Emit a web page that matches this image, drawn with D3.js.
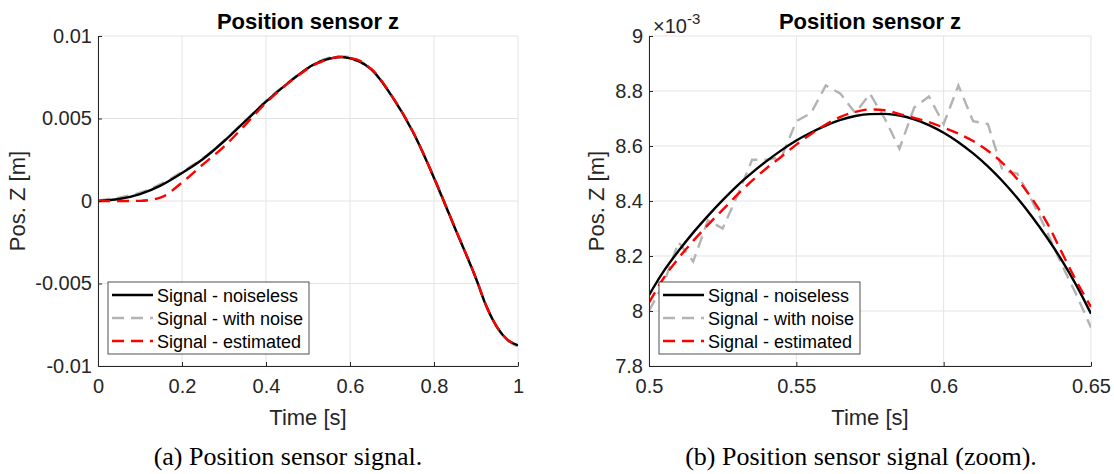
<!DOCTYPE html>
<html>
<head>
<meta charset="utf-8">
<script src="https://cdn.jsdelivr.net/npm/d3@7"></script>
<style>
  body { margin: 0; background: #fff; }
  svg { display: block; font-family: "Liberation Sans", Arial, sans-serif; }
</style>
</head>
<body>
<svg id="chart" width="1114" height="474"></svg>
<script>
// position values are in units of 1e-3 m

// zoom window (0.5 .. 0.65 s), one sample every 5 ms
const zoomTime = [0.500, 0.505, 0.510, 0.515, 0.520, 0.525, 0.530, 0.535, 0.540, 0.545,
                  0.550, 0.555, 0.560, 0.565, 0.570, 0.575, 0.580, 0.585, 0.590, 0.595,
                  0.600, 0.605, 0.610, 0.615, 0.620, 0.625, 0.630, 0.635, 0.640, 0.645, 0.650];
const zoomNoiseless = [8.058, 8.145, 8.218, 8.285, 8.346, 8.403, 8.456, 8.503, 8.546, 8.585,
                       8.620, 8.649, 8.674, 8.695, 8.709, 8.716, 8.717, 8.711, 8.697, 8.676,
                       8.648, 8.614, 8.573, 8.526, 8.472, 8.411, 8.343, 8.268, 8.186, 8.094, 7.990];
const zoomNoisy = [8.00, 8.10, 8.25, 8.18, 8.33, 8.30, 8.42, 8.55, 8.55, 8.56,
                   8.69, 8.72, 8.82, 8.79, 8.72, 8.79, 8.70, 8.59, 8.74, 8.78,
                   8.68, 8.82, 8.69, 8.68, 8.51, 8.50, 8.40, 8.29, 8.17, 8.06, 7.94];
const zoomEstimated = [8.030, 8.120, 8.192, 8.255, 8.313, 8.368, 8.423, 8.474, 8.520, 8.562,
                       8.605, 8.644, 8.678, 8.706, 8.724, 8.733, 8.730, 8.716, 8.702, 8.687,
                       8.667, 8.645, 8.618, 8.583, 8.538, 8.479, 8.408, 8.322, 8.215, 8.110, 8.015];

// rest of the run, outside the zoom window
const fullTime = [0, 0.05, 0.1, 0.15, 0.2, 0.25, 0.3, 0.35, 0.4, 0.45,
                  0.7, 0.75, 0.8, 0.85, 0.9, 0.925, 0.95, 0.975, 1];
const fullNoiseless = [0, 0.12, 0.42, 0.95, 1.70, 2.55, 3.62, 4.82, 6.02, 7.10,
                       6.34, 4.18, 1.40, -1.65, -4.70, -6.40, -7.65, -8.42, -8.75];
const fullEstimated = [0, 0, 0.01, 0.22, 1.12, 2.22, 3.30, 4.60, 5.95, 7.08,
                       6.36, 4.20, 1.42, -1.63, -4.68, -6.38, -7.63, -8.40, -8.73];

// noisy signal as seen at full scale (0 .. 1 s, every 25 ms)
const fullNoisyTime = [0, 0.025, 0.05, 0.075, 0.1, 0.125, 0.15, 0.175, 0.2, 0.225,
                       0.25, 0.275, 0.3, 0.325, 0.35, 0.375, 0.4, 0.425, 0.45, 0.475,
                       0.5, 0.525, 0.55, 0.575, 0.6, 0.625, 0.65, 0.675, 0.7, 0.725,
                       0.75, 0.775, 0.8, 0.825, 0.85, 0.875, 0.9, 0.925, 0.95, 0.975, 1];
const fullNoisy = [0.02, 0.12, 0.20, 0.33, 0.50, 0.74, 1.04, 1.38, 1.76, 2.16,
                   2.60, 3.10, 3.66, 4.26, 4.86, 5.46, 6.06, 6.62, 7.13, 7.63,
                   8.06, 8.44, 8.68, 8.78, 8.71, 8.46, 8.00, 7.24, 6.33, 5.34,
                   4.17, 2.87, 1.39, -0.16, -1.66, -3.16, -4.71, -6.41, -7.66, -8.44, -8.82];

const seriesNames = ["Signal - noiseless", "Signal - with noise", "Signal - estimated"];
const leftXTicks = [0, 0.2, 0.4, 0.6, 0.8, 1];
const leftYTicks = [-10, -5, 0, 5, 10];
const rightXTicks = [0.5, 0.55, 0.6, 0.65];
const rightYTicks = [7.8, 8, 8.2, 8.4, 8.6, 8.8, 9];
const captions = ["(a) Position sensor signal.", "(b) Position sensor signal (zoom)."];

const lineStyles = [
  { color: "#000000", dash: null },
  { color: "#b3b3b3", dash: "12,7" },
  { color: "#ff0000", dash: "12,7" },
];
const drawOrder = [1, 0, 2]; // noisy underneath the noiseless line
const textColor = "#262626";

const svg = d3.select("#chart");

function pairs(t, v) {
  return t.map((d, i) => [d, v[i]]);
}
function mergeSeries(tA, vA, tB, vB) {
  return pairs(tA, vA).concat(pairs(tB, vB)).sort((a, b) => a[0] - b[0]);
}

function drawPanel(p) {
  const x = d3.scaleLinear(p.xDomain, p.xRange);
  const y = d3.scaleLinear(p.yDomain, p.yRange);
  const g = svg.append("g");

  // grid
  g.append("g").selectAll("line").data(p.xTicks).enter().append("line")
    .attr("x1", d => x(d)).attr("x2", d => x(d))
    .attr("y1", p.yRange[0]).attr("y2", p.yRange[1])
    .attr("stroke", "#e3e3e3").attr("stroke-width", 1);
  g.append("g").selectAll("line").data(p.yTicks).enter().append("line")
    .attr("x1", p.xRange[0]).attr("x2", p.xRange[1])
    .attr("y1", d => y(d)).attr("y2", d => y(d))
    .attr("stroke", "#e3e3e3").attr("stroke-width", 1);

  // curves
  const clipId = "clip" + p.id;
  svg.append("clipPath").attr("id", clipId).append("rect")
    .attr("x", p.xRange[0]).attr("y", p.yRange[1])
    .attr("width", p.xRange[1] - p.xRange[0]).attr("height", p.yRange[0] - p.yRange[1]);
  const smooth = d3.line().x(d => x(d[0])).y(d => y(d[1])).curve(d3.curveMonotoneX);
  const straight = d3.line().x(d => x(d[0])).y(d => y(d[1]));
  const lines = g.append("g").attr("clip-path", "url(#" + clipId + ")");
  drawOrder.forEach(i => {
    lines.append("path")
      .attr("d", (i === 1 && p.jagged ? straight : smooth)(p.series[i]))
      .attr("fill", "none")
      .attr("stroke", lineStyles[i].color)
      .attr("stroke-width", 2.4)
      .attr("stroke-dasharray", lineStyles[i].dash);
  });

  // axes, ticks pointing inwards
  const ax = g.append("g")
    .attr("transform", "translate(0," + p.yRange[0] + ")")
    .call(d3.axisBottom(x).tickValues(p.xTicks).tickFormat(d => String(d))
      .tickSizeInner(-4).tickSizeOuter(0).tickPadding(13));
  const ay = g.append("g")
    .attr("transform", "translate(" + p.xRange[0] + ",0)")
    .call(d3.axisLeft(y).tickValues(p.yTicks).tickFormat(p.yFormat)
      .tickSizeInner(-4).tickSizeOuter(0).tickPadding(6));
  [ax, ay].forEach(a => {
    a.select(".domain").attr("stroke", textColor);
    a.selectAll(".tick line").attr("stroke", textColor);
    a.selectAll("text").attr("fill", textColor).attr("font-size", 20)
      .attr("font-family", "Liberation Sans, Arial, sans-serif");
  });

  const cx = (p.xRange[0] + p.xRange[1]) / 2;
  g.append("text").text("Position sensor z")
    .attr("x", cx).attr("y", 29).attr("text-anchor", "middle")
    .attr("font-size", 22).attr("font-weight", "bold").attr("fill", "#000");
  g.append("text").text("Time [s]")
    .attr("x", cx).attr("y", 425).attr("text-anchor", "middle")
    .attr("font-size", 22).attr("fill", textColor);
  g.append("text").text("Pos. Z [m]")
    .attr("transform", "translate(" + p.yLabelX + "," + (p.yRange[0] + p.yRange[1]) / 2 + ") rotate(-90)")
    .attr("text-anchor", "middle")
    .attr("font-size", 22).attr("fill", textColor);

  if (p.exponent) {
    const ex = g.append("text").attr("x", p.xRange[0] + 4).attr("y", 33)
      .attr("font-size", 20).attr("fill", textColor);
    ex.append("tspan").text("\u00d710");
    ex.append("tspan").text(p.exponent).attr("font-size", 15).attr("dy", -9);
  }

  // legend
  const lx = p.xRange[0] + 10, ly = 282;
  const lg = g.append("g").attr("transform", "translate(" + lx + "," + ly + ")");
  lg.append("rect").attr("width", 201).attr("height", 72)
    .attr("fill", "#fff").attr("stroke", textColor).attr("stroke-width", 0.8);
  const rows = lg.selectAll("g.row").data(seriesNames).enter().append("g")
    .attr("transform", (d, i) => "translate(0," + (13 + i * 23) + ")");
  rows.append("line").attr("x1", 4).attr("x2", 45)
    .attr("stroke", (d, i) => lineStyles[i].color)
    .attr("stroke-width", 2.4)
    .attr("stroke-dasharray", (d, i) => lineStyles[i].dash);
  rows.append("text").text(d => d).attr("x", 49).attr("y", 6.5)
    .attr("font-size", 18).attr("fill", "#000");

  svg.append("text").text(p.caption)
    .attr("x", p.captionX).attr("y", 465).attr("text-anchor", "middle")
    .attr("font-family", "Liberation Serif, Times New Roman, serif")
    .attr("font-size", 26).attr("fill", "#000");
}

const meterFormat = d => String(+(d / 1000).toFixed(3));

drawPanel({
  id: "a",
  xDomain: [0, 1], xRange: [98, 518],
  yDomain: [-10, 10], yRange: [366, 36],
  xTicks: leftXTicks, yTicks: leftYTicks, yFormat: meterFormat,
  yLabelX: 25, jagged: false,
  series: [
    mergeSeries(fullTime, fullNoiseless, zoomTime, zoomNoiseless),
    pairs(fullNoisyTime, fullNoisy),
    mergeSeries(fullTime, fullEstimated, zoomTime, zoomEstimated),
  ],
  caption: captions[0], captionX: 288,
});

drawPanel({
  id: "b",
  xDomain: [0.5, 0.65], xRange: [649, 1091],
  yDomain: [7.8, 9], yRange: [366, 36],
  xTicks: rightXTicks, yTicks: rightYTicks, yFormat: d => String(d),
  yLabelX: 604, exponent: "-3", jagged: true,
  series: [
    pairs(zoomTime, zoomNoiseless),
    pairs(zoomTime, zoomNoisy),
    pairs(zoomTime, zoomEstimated),
  ],
  caption: captions[1], captionX: 861,
});
</script>
</body>
</html>
